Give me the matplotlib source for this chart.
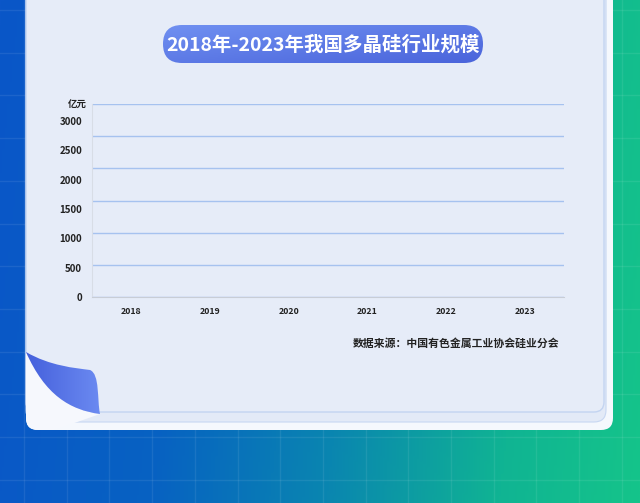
import numpy as np
import matplotlib.pyplot as plt
from matplotlib.patches import FancyBboxPatch, PathPatch
from matplotlib.path import Path
from matplotlib.colors import LinearSegmentedColormap

plt.rcParams['font.family'] = ['Noto Sans CJK SC', 'DejaVu Sans']

# --- Data / texts ---
title = "2018年-2023年我国多晶硅行业规模"
source = "数据来源：中国有色金属工业协会硅业分会"
unit = "亿元"
years = ["2018", "2019", "2020", "2021", "2022", "2023"]
y_ticks = [0, 500, 1000, 1500, 2000, 2500, 3000]

W, H = 640, 503
fig = plt.figure(figsize=(W / 100, H / 100), dpi=100)

# --- Decoration layer in pixel coordinates ---
bg = fig.add_axes([0, 0, 1, 1])
bg.set_xlim(0, W)
bg.set_ylim(H, 0)
bg.axis('off')

# background gradient blue -> green
X, Y = np.meshgrid(np.linspace(0, 1, 256), np.linspace(0, 1, 256))
t = np.clip(0.92 * X + 0.08 * Y, 0, 1)
cmap_bg = LinearSegmentedColormap.from_list(
    'bg', [(0, '#0a56c8'), (0.3, '#0762c2'), (0.55, '#0a86b0'),
           (0.8, '#10b493'), (1, '#15c48a')])
bg.imshow(t, cmap=cmap_bg, extent=(0, W, H, 0), aspect='auto', zorder=0)

# faint grid on the background
for gx in np.arange(24, W, 42.7):
    bg.plot([gx, gx], [0, H], color='white', alpha=0.08, lw=1, zorder=1)
for gy in np.arange(10, H, 42.7):
    bg.plot([0, W], [gy, gy], color='white', alpha=0.08, lw=1, zorder=1)

# card layers
outer = FancyBboxPatch((26, -60), 587, 490, boxstyle='round,pad=0,rounding_size=12',
                       fc='#f5f8fd', ec='none', zorder=2)
middle = FancyBboxPatch((26, -60), 580, 482, boxstyle='round,pad=0,rounding_size=12',
                        fc='#e3eaf7', ec='#c8d7f2', lw=0.8, zorder=3)
inner = FancyBboxPatch((26, -60), 578, 472, boxstyle='round,pad=0,rounding_size=10',
                       fc='#e6ecf8', ec='#c3d4f1', lw=1, zorder=4)
for p in (outer, middle, inner):
    bg.add_patch(p)

# page curl at bottom-left
under = Path([(26, 352), (45, 395), (70, 410), (100, 414),
              (26, 440), (26, 352)],
             [Path.MOVETO, Path.CURVE4, Path.CURVE4, Path.CURVE4,
              Path.LINETO, Path.CLOSEPOLY])
under_patch = PathPatch(under, fc='#f6f8fd', ec='none', zorder=5)
bg.add_patch(under_patch)
under_patch.set_clip_path(outer)
flap = Path([(26, 352), (50, 366), (75, 368), (90, 370),
             (100, 374), (97, 400), (100, 414),
             (70, 410), (45, 395), (26, 352)],
            [Path.MOVETO, Path.CURVE4, Path.CURVE4, Path.CURVE4,
             Path.CURVE4, Path.CURVE4, Path.CURVE4,
             Path.CURVE4, Path.CURVE4, Path.CURVE4])
flap_patch = PathPatch(flap, fc='none', ec='none', zorder=6)
bg.add_patch(flap_patch)
cmap_flap = LinearSegmentedColormap.from_list('flap', ['#4560dc', '#6b8af1'])
fim = bg.imshow(X, cmap=cmap_flap, extent=(26, 100, 414, 352), aspect='auto', zorder=6)
fim.set_clip_path(flap_patch)

# title pill
pill = FancyBboxPatch((163, 25), 320, 38, boxstyle='round,pad=0,rounding_size=19',
                      fc='none', ec='none', zorder=7)
bg.add_patch(pill)
cmap_pill = LinearSegmentedColormap.from_list('pill', ['#7090f1', '#4a64db'])
pim = bg.imshow(0.5 * X + 0.5 * Y, cmap=cmap_pill, extent=(163, 483, 63, 25),
                aspect='auto', zorder=7)
pim.set_clip_path(pill)
bg.text(323, 44.5, title, ha='center', va='center', color='white',
        fontsize=14, fontweight='bold', zorder=8)

bg.text(87, 105, unit, ha='right', va='center', fontsize=6.8,
        color='#222222', fontweight='bold', zorder=8)
bg.text(559, 344, source, ha='right', va='center', fontsize=7.8,
        color='#222222', fontweight='bold', zorder=8)

# --- Chart area (gridlines + categories) ---
ax = fig.add_axes([92 / W, (H - 297) / H, 472 / W, (297 - 104) / H])
ax.patch.set_alpha(0)
ax.set_xlim(-0.5, len(years) - 0.5)
ax.set_ylim(y_ticks[0], y_ticks[-1])
ax.set_yticks(y_ticks)
ax.set_xticks(range(len(years)), years)
ax.yaxis.grid(True, color='#a6c2ef', lw=1)
ax.set_axisbelow(True)
ax.tick_params(left=False, labelleft=False, bottom=False, labelsize=6.3,
               labelcolor='#222222', pad=4)
for lbl in ax.get_xticklabels():
    lbl.set_fontweight('bold')
for s in ('top', 'right'):
    ax.spines[s].set_visible(False)
ax.spines['bottom'].set_color('#c8cdd6')
ax.spines['left'].set_color('#d8dde6')

# y tick labels (offset from the gridlines as in the reference)
lab = fig.add_axes([92 / W, (H - 297) / H, 472 / W, (297 - 121) / H])
lab.patch.set_alpha(0)
lab.set_ylim(y_ticks[0], y_ticks[-1])
lab.set_yticks(y_ticks)
lab.set_xticks([])
lab.tick_params(left=False, labelsize=7, labelcolor='#222222', pad=3.5)
for lbl in lab.get_yticklabels():
    lbl.set_fontweight('bold')
for s in lab.spines.values():
    s.set_visible(False)

fig.savefig('out.png', dpi=100)
